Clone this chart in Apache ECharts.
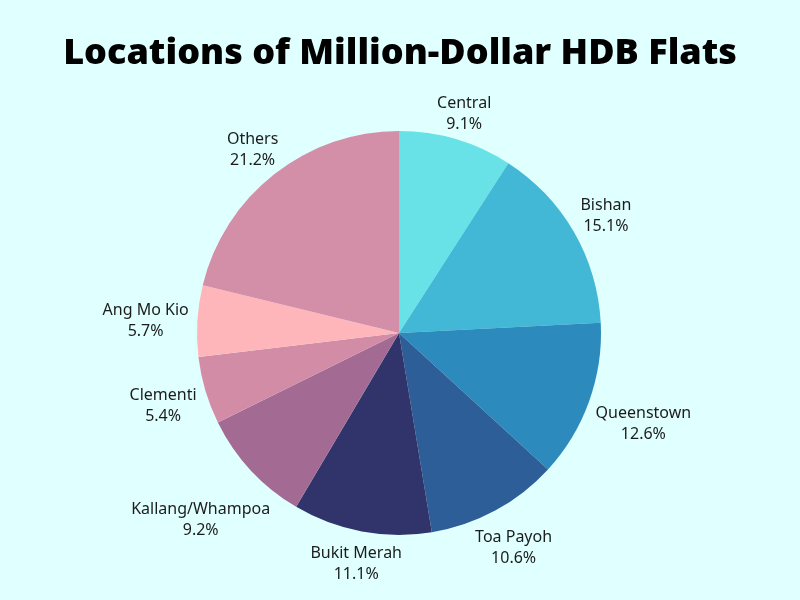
<!DOCTYPE html>
<html>
<head>
<meta charset="utf-8">
<script src="https://cdn.jsdelivr.net/npm/echarts@6/dist/echarts.min.js"></script>
<style>html,body{margin:0;padding:0;background:#e0ffff;}#c{width:800px;height:600px;}</style>
</head>
<body>
<div id="c"></div>
<script>
var categories = ['Central','Bishan','Queenstown','Toa Payoh','Bukit Merah','Kallang/Whampoa','Clementi','Ang Mo Kio','Others'];
var values = [9.1, 15.1, 12.6, 10.6, 11.1, 9.2, 5.4, 5.7, 21.2];
var colors = ['#68e2e6','#43b8d6','#2c8bbc','#2e5e97','#31346b','#a36b93','#d38ca6','#ffb6ba','#d38fa8'];
var titleText = 'Locations of Million-Dollar HDB Flats';

var chart = echarts.init(document.getElementById('c'));
var GAP = 8;
chart.setOption({
  backgroundColor: '#e0ffff',
  animation: false,
  title: {
    text: titleText, left: 'center', top: 31,
    textStyle: {fontFamily: 'Open Sans', fontWeight: 800, fontSize: 36, color: '#000'}
  },
  series: [{
    type: 'pie',
    center: [399, 333],
    radius: 202,
    startAngle: 90,
    clockwise: true,
    avoidLabelOverlap: false,
    data: categories.map(function(c, i){ return {name: c, value: values[i], itemStyle: {color: colors[i]}}; }),
    label: {
      show: true, position: 'outside',
      formatter: function(p){ return p.name + '\n' + p.value.toFixed(1) + '%'; },
      fontFamily: 'Noto Sans', fontSize: 16, lineHeight: 21, color: '#1c1c1c'
    },
    labelLine: {show: true, length: 10, length2: 0, lineStyle: {opacity: 0}},
    labelLayout: function(p){
      var pts = p.labelLinePoints;
      if (!pts) return {};
      var dx = pts[1][0]-pts[0][0], dy = pts[1][1]-pts[0][1];
      var len = Math.sqrt(dx*dx+dy*dy) || 1; dx/=len; dy/=len;
      var w = p.labelRect.width, h = p.labelRect.height;
      var ext = Math.abs(dx)*w/2 + Math.abs(dy)*(h/2 - 7) + GAP;
      return {x: pts[0][0]+dx*ext, y: pts[0][1]+dy*ext + 3, align: 'center', verticalAlign: 'middle'};
    },
    itemStyle: {borderWidth: 0},
    emphasis: {disabled: true}
  }]
});
</script>
</body>
</html>
